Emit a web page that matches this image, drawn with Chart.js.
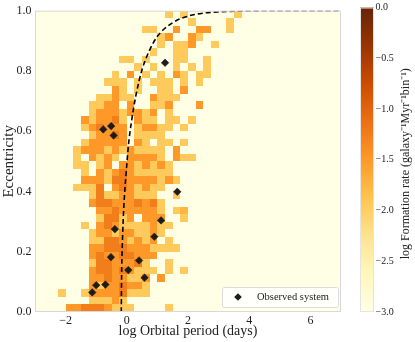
<!DOCTYPE html>
<html>
<head>
<meta charset="utf-8">
<script src="https://cdn.jsdelivr.net/npm/chart.js@4.4.0/dist/chart.umd.min.js"></script>
<style>
html, body { margin: 0; padding: 0; background: #fff; }
#wrap { position: relative; width: 415px; height: 342px; }
#main { position: absolute; left: 0; top: 0; }
#cbar { position: absolute; left: 350px; top: 0; }
</style>
</head>
<body>
<div id="wrap">
  <canvas id="main" width="350" height="342"></canvas>
  <canvas id="cbar" width="65" height="342"></canvas>
</div>
<script>
// tick labels
const xTicks = [-2, 0, 2, 4, 6];
const eTicks = [0, 0.2, 0.4, 0.6, 0.8, 1.0];
const cbTicks = [-3, -2.5, -2, -1.5, -1, -0.5, 0];

// histogram bins: log P starts at -3, step 0.25; e rows start at 1.0 going down, step 0.025
const binX0 = -3, binDX = 0.25;
const binETop = 1.0, binDE = 0.025;

// log formation rate for each level code used in rateRows ('.' = empty bin)
const levelRate = { '1': -1.95, '2': -1.75, '3': -1.5, '4': -1.25 };

// one string per eccentricity bin (top row first), one char per log P bin
const rateRows = [
  ".................1.1......1.",
  "....................1....1..",
  "..............11..3..33..1..",
  "................13..31......",
  "................1.113..1....",
  "...............1..11........",
  "...........11.1...11..1.....",
  ".............1.1..1.1.1.....",
  "..........1.3.1.1.31.11.....",
  ".........111.1.111.1.1......",
  "..........31.1..11.3........",
  "........11311..3111.........",
  ".......1133.3..113...3......",
  ".......133313313.1..........",
  "......313341.311.11.1.......",
  "......134333.13311.1........",
  ".......13343.1111...........",
  "......133333.31.11.1........",
  ".....133313131111.3.........",
  ".....1.3131.33331.311.......",
  ".....11.13.3313131..........",
  "......1.3134311111..........",
  "......3331443333131.........",
  ".....1114.3431311...........",
  ".......141133111..1.........",
  ".......3443334341...........",
  "........334333331.12........",
  "........14413.333..1........",
  "......1.3431111311..........",
  ".......1331331131...........",
  ".......114431313.1..........",
  ".......334443331111.........",
  ".......343344333............",
  ".......14433341..1..........",
  ".......344343111.1.1........",
  ".......33433113.3...........",
  ".......31334331.............",
  "...1..133334111.............",
  ".......11131................",
  "....334443111....1.........."
];

// dashed limit curve
const curveLogP = [-0.18, -0.17, -0.15, -0.12, -0.08, -0.03, 0.05, 0.15, 0.3, 0.5, 0.75, 1.0, 1.5, 2.0, 2.5, 3.0, 4.0, 5.0, 7.0];
const curveEcc  = [0, 0.12, 0.21, 0.30, 0.38, 0.45, 0.55, 0.63, 0.72, 0.805, 0.87, 0.915, 0.96, 0.982, 0.992, 0.996, 0.999, 1.0, 1.0];

// observed systems
const obsLogP = [1.25, -0.77, -0.51, -0.43, 1.65, 1.12, -0.39, 0.90, -0.52, 0.40, 0.05, 0.58, -0.70, -1.00, -1.13];
const obsEcc  = [0.827, 0.606, 0.617, 0.586, 0.399, 0.304, 0.275, 0.250, 0.182, 0.171, 0.139, 0.114, 0.091, 0.089, 0.065];

const serif = "'Liberation Serif', 'Times New Roman', serif";
const ink = '#222';

// YlOrBr
const ylorbr = ['#ffffe5', '#fff7bc', '#fee391', '#fec44f', '#fe9929', '#ec7014', '#cc4c02', '#993404', '#662506'];
function hex(h) { return [1, 3, 5].map(i => parseInt(h.substr(i, 2), 16)); }
function cmap(v) {
  let t = Math.min(1, Math.max(0, (v + 3) / 3));
  const p = t * (ylorbr.length - 1);
  const i = Math.min(Math.floor(p), ylorbr.length - 2), f = p - i;
  const a = hex(ylorbr[i]), b = hex(ylorbr[i + 1]);
  return 'rgb(' + a.map((c, n) => Math.round(c + (b[n] - c) * f)).join(',') + ')';
}
function minus(s) { return s.replace('-', '\u2212'); }

const heatmap = {
  id: 'heatmap',
  beforeDatasetsDraw(chart) {
    const { ctx, chartArea: a, scales: { x, y } } = chart;
    ctx.save();
    ctx.beginPath();
    ctx.rect(a.left, a.top, a.width, a.height);
    ctx.clip();
    ctx.fillStyle = cmap(-3);
    ctx.fillRect(a.left, a.top, a.width, a.height);
    rateRows.forEach((row, j) => {
      const eHi = binETop - j * binDE, eLo = eHi - binDE;
      [...row].forEach((c, k) => {
        if (!(c in levelRate)) return;
        const p0 = binX0 + k * binDX;
        const l = Math.round(x.getPixelForValue(p0));
        const r = Math.round(x.getPixelForValue(p0 + binDX));
        const t = Math.round(y.getPixelForValue(eHi));
        const b = Math.round(y.getPixelForValue(eLo));
        ctx.fillStyle = cmap(levelRate[c]);
        ctx.fillRect(l, t, r - l, b - t);
      });
    });
    ctx.restore();
  },
  afterDraw(chart) {
    const { ctx, chartArea: a } = chart;
    ctx.save();
    ctx.strokeStyle = '#d8d8d8';
    ctx.lineWidth = 1;
    ctx.strokeRect(a.left + 0.5, a.top + 0.5, a.width - 1, a.height - 1);

    // legend box, lower right
    const bw = 116, bh = 20;
    const bx = a.right - 3 - bw, by = a.bottom - 5 - bh;
    ctx.fillStyle = 'rgba(255,255,255,0.85)';
    ctx.strokeStyle = '#dcdcdc';
    ctx.beginPath();
    ctx.roundRect(bx + 0.5, by + 0.5, bw, bh, 2);
    ctx.fill();
    ctx.stroke();
    const ds = chart.data.datasets[0];
    ctx.fillStyle = ds.backgroundColor;
    Chart.helpers.drawPoint(ctx, { pointStyle: 'rectRot', radius: 3.8, rotation: 0, borderWidth: 0 }, bx + 16, by + bh / 2);
    ctx.fillStyle = ink;
    ctx.font = '10.5px ' + serif;
    ctx.textBaseline = 'middle';
    ctx.textAlign = 'left';
    ctx.fillText(ds.label, bx + 35, by + bh / 2 + 0.5);
    ctx.restore();
  }
};

new Chart(document.getElementById('main'), {
  type: 'scatter',
  data: {
    datasets: [
      {
        label: 'Observed system',
        data: obsLogP.map((p, i) => ({ x: p, y: obsEcc[i] })),
        pointStyle: 'rectRot',
        pointRadius: 3.8,
        backgroundColor: '#1c1c1c',
        borderColor: '#1c1c1c',
        borderWidth: 0.5
      },
      {
        label: 'limit',
        data: curveLogP.map((p, i) => ({ x: p, y: curveEcc[i] })),
        showLine: true,
        pointRadius: 0,
        borderColor: '#000',
        borderWidth: 1.6,
        borderDash: [5, 3],
        cubicInterpolationMode: 'monotone'
      }
    ]
  },
  options: {
    responsive: false,
    animation: false,
    layout: { padding: { left: 0, top: 6, right: 9, bottom: 0 } },
    plugins: { legend: { display: false }, tooltip: { enabled: false } },
    scales: {
      x: {
        type: 'linear', min: -3, max: 7,
        afterBuildTicks: s => { s.ticks = xTicks.map(v => ({ value: v })); },
        afterFit: s => { s.height = 30; },
        grid: { display: false, drawTicks: false },
        border: { display: false },
        ticks: { padding: 2, color: ink, font: { family: serif, size: 12 }, callback: v => minus(String(v)) },
        title: { display: true, text: 'log Orbital period (days)', color: ink, font: { family: serif, size: 14 }, padding: { top: 0, bottom: 2 } }
      },
      y: {
        type: 'linear', min: 0, max: 1,
        afterBuildTicks: s => { s.ticks = eTicks.map(v => ({ value: v })); },
        afterFit: s => { s.width = 35; },
        grid: { display: false, drawTicks: false },
        border: { display: false },
        ticks: { padding: 3.5, color: ink, font: { family: serif, size: 12 }, callback: v => v.toFixed(1) },
        title: { display: true, text: 'Eccentricity', color: ink, font: { family: serif, size: 15 }, padding: { top: 0, bottom: 0 } }
      }
    }
  },
  plugins: [heatmap]
});

const colorbar = {
  id: 'colorbar',
  beforeDatasetsDraw(chart) {
    const { ctx, chartArea: a, scales: { y } } = chart;
    const g = ctx.createLinearGradient(0, y.getPixelForValue(-3), 0, y.getPixelForValue(0));
    ylorbr.forEach((c, i) => g.addColorStop(i / (ylorbr.length - 1), c));
    ctx.save();
    ctx.fillStyle = g;
    ctx.fillRect(a.left, a.top, a.width, a.height);
    ctx.strokeStyle = '#e4e4e4';
    ctx.strokeRect(a.left + 0.5, a.top + 0.5, a.width - 1, a.height - 1);
    // label, reading bottom to top
    ctx.translate(56, (a.top + a.bottom) / 2 + 4);
    ctx.rotate(-Math.PI / 2);
    ctx.fillStyle = ink;
    ctx.font = '12px ' + serif;
    ctx.textAlign = 'center';
    ctx.textBaseline = 'middle';
    ctx.fillText('log Formation rate (galaxy\u207B\u00B9Myr\u207B\u00B9bin\u207B\u00B9)', 0, 0);
    ctx.restore();
  }
};

new Chart(document.getElementById('cbar'), {
  type: 'scatter',
  data: { datasets: [] },
  options: {
    responsive: false,
    animation: false,
    layout: { padding: { left: 10, top: 6, right: 0, bottom: 30 } },
    plugins: { legend: { display: false }, tooltip: { enabled: false } },
    scales: {
      x: { display: false, min: 0, max: 1 },
      y: {
        position: 'right', min: -3, max: 0,
        afterBuildTicks: s => { s.ticks = cbTicks.map(v => ({ value: v })); },
        afterFit: s => { s.width = 41; },
        grid: { display: false, drawTicks: false },
        border: { display: false },
        ticks: { padding: 1.5, color: ink, font: { family: serif, size: 10 }, callback: v => minus(v.toFixed(1)) }
      }
    }
  },
  plugins: [colorbar]
});
</script>
</body>
</html>
